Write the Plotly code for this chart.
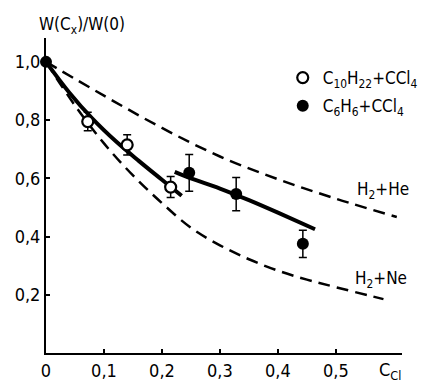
import plotly.graph_objects as go

# ---- data ----
# measured points
open_x = [0.072, 0.14, 0.215]
open_y = [0.795, 0.715, 0.570]
open_err = [0.032, 0.035, 0.036]

filled_x = [0.247, 0.328, 0.443]
filled_y = [0.619, 0.546, 0.375]
filled_err = [0.063, 0.057, 0.047]

origin_x = [0.0]
origin_y = [1.0]

# solid fit curves
fit1_x = [0.0, 0.04, 0.08, 0.12, 0.16, 0.20, 0.234]
fit1_y = [1.0, 0.895, 0.805, 0.728, 0.66, 0.595, 0.54]

fit2_x = [0.222, 0.25, 0.30, 0.35, 0.40, 0.464]
fit2_y = [0.622, 0.60, 0.565, 0.525, 0.482, 0.425]

# dashed curves
he_x = [0.0, 0.10, 0.20, 0.30, 0.40, 0.50, 0.605]
he_y = [1.0, 0.884, 0.773, 0.675, 0.597, 0.530, 0.467]

ne_x = [0.0, 0.05, 0.10, 0.15, 0.20, 0.25, 0.30, 0.35, 0.40, 0.45, 0.50, 0.582]
ne_y = [1.0, 0.85, 0.72, 0.61, 0.515, 0.43, 0.37, 0.322, 0.283, 0.252, 0.226, 0.185]

# ticks
x_tickvals = [0, 0.1, 0.2, 0.3, 0.4, 0.5]
x_ticktext = ["0", "0,1", "0,2", "0,3", "0,4", "0,5"]
y_tickvals = [0.2, 0.4, 0.6, 0.8, 1.0]
y_ticktext = ["0,2", "0,4", "0,6", "0,8", "1,0"]

FONT = "DejaVu Sans Condensed, DejaVu Sans, Arial, sans-serif"

fig = go.Figure()

dash_line = dict(color="black", width=2.5, dash="12px,7px")
fig.add_trace(go.Scatter(x=he_x, y=he_y, mode="lines", showlegend=False,
                         line=dash_line, line_shape="spline"))
fig.add_trace(go.Scatter(x=ne_x, y=ne_y, mode="lines", showlegend=False,
                         line=dash_line, line_shape="spline"))
fig.add_trace(go.Scatter(x=fit1_x, y=fit1_y, mode="lines", showlegend=False,
                         line=dict(color="black", width=4), line_shape="spline"))
fig.add_trace(go.Scatter(x=fit2_x, y=fit2_y, mode="lines", showlegend=False,
                         line=dict(color="black", width=4), line_shape="spline"))

fig.add_trace(go.Scatter(x=open_x, y=open_y, mode="markers", legendgroup="a",
                         name="C<sub>10</sub>H<sub>22</sub>+CCl<sub>4</sub>",
                         marker=dict(symbol="circle", size=11, color="white",
                                     line=dict(color="black", width=2.2)),
                         error_y=dict(type="data", array=open_err, color="black",
                                      thickness=1.5, width=4)))
fig.add_trace(go.Scatter(x=filled_x, y=filled_y, mode="markers", legendgroup="b",
                         name="C<sub>6</sub>H<sub>6</sub>+CCl<sub>4</sub>",
                         marker=dict(symbol="circle", size=12, color="black"),
                         error_y=dict(type="data", array=filled_err, color="black",
                                      thickness=1.5, width=4)))
fig.add_trace(go.Scatter(x=origin_x, y=origin_y, mode="markers", showlegend=False,
                         marker=dict(symbol="circle", size=12, color="black"),
                         cliponaxis=False))

axis_common = dict(showgrid=False, zeroline=False, showline=True, linecolor="black",
                   linewidth=2, ticks="inside", ticklen=4, tickwidth=1.5,
                   tickcolor="black", tickfont=dict(family=FONT, size=18, color="black"),
                   automargin=False)

fig.update_xaxes(range=[0, 0.614], tickvals=x_tickvals, ticktext=x_ticktext, **axis_common)
fig.update_yaxes(range=[0, 1.082], tickvals=y_tickvals, ticktext=y_ticktext, **axis_common)

ann_font = dict(family=FONT, size=17, color="black")
fig.add_annotation(text="W(C<sub>x</sub>)/W(0)", xref="paper", yref="paper",
                   x=0.10, y=1.041, xanchor="center", yanchor="middle",
                   showarrow=False, font=ann_font)
fig.add_annotation(text="H<sub>2</sub>+He", x=0.581, y=0.557, xanchor="center",
                   showarrow=False, font=ann_font)
fig.add_annotation(text="H<sub>2</sub>+Ne", x=0.578, y=0.251, xanchor="center",
                   showarrow=False, font=ann_font)
fig.add_annotation(text="C<sub>Cl</sub>", xref="paper", yref="paper",
                   x=0.966, y=-0.058, xanchor="center", yanchor="middle",
                   showarrow=False, font=dict(family=FONT, size=18, color="black"))

fig.update_layout(
    width=429, height=386,
    margin=dict(l=46, r=27, t=38, b=33, autoexpand=False),
    paper_bgcolor="white", plot_bgcolor="white",
    showlegend=True,
    legend=dict(x=0.665, y=0.930, xanchor="left", yanchor="top",
                bgcolor="rgba(0,0,0,0)", font=dict(family=FONT, size=17, color="black"),
                itemwidth=30, tracegroupgap=3),
)

fig.write_html("out.html")
